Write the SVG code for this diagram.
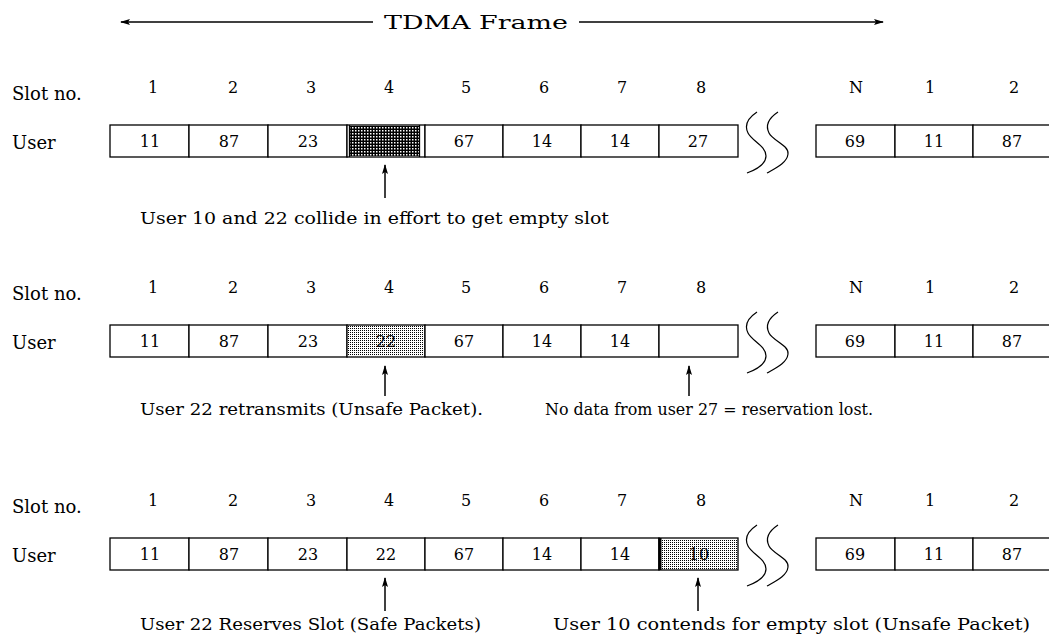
<svg xmlns="http://www.w3.org/2000/svg" width="1049" height="640" viewBox="0 0 1049 640">
<style>
text{font-family:"DejaVu Serif","Liberation Serif",serif;fill:#000}
.lbl{font-size:18px}
.num{font-size:16px;text-anchor:middle}
.val{font-size:16px;text-anchor:middle}
.cap{font-size:17.5px}
.cell{fill:#fff;stroke:#000;stroke-width:1.3}
.ln{stroke:#000;stroke-width:1.3;fill:none}
.brk{stroke:#000;stroke-width:1.2;fill:none}
.arr{stroke:#000;stroke-width:1.5;fill:none;marker-end:url(#ah)}
</style>
<defs>
<pattern id="dark" width="3" height="3" patternUnits="userSpaceOnUse">
<rect width="3" height="3" fill="#000"/>
<rect x="1" y="1" width="1.5" height="1.5" fill="#fff"/>
</pattern>
<pattern id="light" width="2" height="2" patternUnits="userSpaceOnUse">
<rect width="2" height="2" fill="#fff"/>
<rect width="1" height="1" fill="#000"/>
</pattern>
<marker id="ah" viewBox="0 0 10 6" refX="9" refY="3" markerWidth="10" markerHeight="6" markerUnits="userSpaceOnUse" orient="auto">
<path d="M0,0 L10,3 L0,6 L2,3 z" fill="#000"/>
</marker>
<path id="brkA" d="M757,112 C748,118 744,125 748,133 C752,141 766,146 766,156 C766,165 755,170 747,173"/>
<path id="brkB" d="M778,112 C769,118 765,125 769,133 C773,141 789,145 788,154 C787,163 776,168 767,173"/>
</defs>
<rect width="1049" height="640" fill="#fff"/>

<g id="frame-title">
<line x1="373" y1="22" x2="121" y2="22" class="arr"/>
<text x="384" y="29" style="font-size:19px" textLength="184" lengthAdjust="spacingAndGlyphs">TDMA Frame</text>
<line x1="579" y1="22" x2="883" y2="22" class="arr"/>
</g>

<!-- Row 1 -->
<g id="row1">
<text class="lbl" x="12" y="100">Slot no.</text>
<text class="lbl" x="12" y="149">User</text>
<text class="num" x="153" y="93">1</text><text class="num" x="233" y="93">2</text><text class="num" x="311" y="93">3</text><text class="num" x="389" y="93">4</text>
<text class="num" x="466" y="93">5</text><text class="num" x="544" y="93">6</text><text class="num" x="622" y="93">7</text><text class="num" x="701" y="93">8</text>
<text class="num" x="856" y="93">N</text><text class="num" x="930" y="93">1</text><text class="num" x="1014" y="93">2</text>
<g id="r1c1"><rect class="cell" x="110" y="125" width="79" height="32"/><text class="val" x="150" y="147">11</text></g>
<g id="r1c2"><rect class="cell" x="189" y="125" width="79" height="32"/><text class="val" x="229" y="147">87</text></g>
<g id="r1c3"><rect class="cell" x="268" y="125" width="79" height="32"/><text class="val" x="308" y="147">23</text></g>
<g id="r1c4"><rect class="cell" x="347" y="125" width="78" height="32"/><rect x="349.5" y="126" width="70" height="30" fill="url(#dark)"/><line class="ln" x1="349.5" y1="125" x2="349.5" y2="157"/><line class="ln" x1="419.5" y1="125" x2="419.5" y2="157"/></g>
<g id="r1c5"><rect class="cell" x="425" y="125" width="78" height="32"/><text class="val" x="464" y="147">67</text></g>
<g id="r1c6"><rect class="cell" x="503" y="125" width="78" height="32"/><text class="val" x="542" y="147">14</text></g>
<g id="r1c7"><rect class="cell" x="581" y="125" width="78" height="32"/><text class="val" x="620" y="147">14</text></g>
<g id="r1c8"><rect class="cell" x="659" y="125" width="79" height="32"/><text class="val" x="698" y="147">27</text></g>
<g id="r1brk"><use href="#brkA" class="brk"/><use href="#brkB" class="brk"/></g>
<g id="r1cN"><rect class="cell" x="816" y="125" width="79" height="32"/><text class="val" x="855" y="147">69</text></g>
<g id="r1cN1"><rect class="cell" x="895" y="125" width="78" height="32"/><text class="val" x="934" y="147">11</text></g>
<g id="r1cN2"><rect class="cell" x="973" y="125" width="79" height="32"/><text class="val" x="1012" y="147">87</text></g>
<text class="cap" x="140" y="224" textLength="469" lengthAdjust="spacingAndGlyphs">User 10 and 22 collide in effort to get empty slot</text>
</g>

<!-- Row 2 -->
<g id="row2">
<text class="lbl" x="12" y="300">Slot no.</text>
<text class="lbl" x="12" y="349">User</text>
<text class="num" x="153" y="293">1</text><text class="num" x="233" y="293">2</text><text class="num" x="311" y="293">3</text><text class="num" x="389" y="293">4</text>
<text class="num" x="466" y="293">5</text><text class="num" x="544" y="293">6</text><text class="num" x="622" y="293">7</text><text class="num" x="701" y="293">8</text>
<text class="num" x="856" y="293">N</text><text class="num" x="930" y="293">1</text><text class="num" x="1014" y="293">2</text>
<g id="r2c1"><rect class="cell" x="110" y="325" width="79" height="32"/><text class="val" x="150" y="347">11</text></g>
<g id="r2c2"><rect class="cell" x="189" y="325" width="79" height="32"/><text class="val" x="229" y="347">87</text></g>
<g id="r2c3"><rect class="cell" x="268" y="325" width="79" height="32"/><text class="val" x="308" y="347">23</text></g>
<g id="r2c4"><rect class="cell" x="347" y="325" width="78" height="32"/><rect x="348" y="326" width="76" height="30" fill="url(#light)"/><text class="val" x="386" y="347">22</text></g>
<g id="r2c5"><rect class="cell" x="425" y="325" width="78" height="32"/><text class="val" x="464" y="347">67</text></g>
<g id="r2c6"><rect class="cell" x="503" y="325" width="78" height="32"/><text class="val" x="542" y="347">14</text></g>
<g id="r2c7"><rect class="cell" x="581" y="325" width="78" height="32"/><text class="val" x="620" y="347">14</text></g>
<g id="r2c8"><rect class="cell" x="659" y="325" width="79" height="32"/></g>
<g id="r2brk" transform="translate(0,200)"><use href="#brkA" class="brk"/><use href="#brkB" class="brk"/></g>
<g id="r2cN"><rect class="cell" x="816" y="325" width="79" height="32"/><text class="val" x="855" y="347">69</text></g>
<g id="r2cN1"><rect class="cell" x="895" y="325" width="78" height="32"/><text class="val" x="934" y="347">11</text></g>
<g id="r2cN2"><rect class="cell" x="973" y="325" width="79" height="32"/><text class="val" x="1012" y="347">87</text></g>
<text class="cap" x="140" y="415" textLength="343" lengthAdjust="spacingAndGlyphs">User 22 retransmits (Unsafe Packet).</text>
<text class="cap" x="545" y="415" textLength="328" lengthAdjust="spacingAndGlyphs">No data from user 27 = reservation lost.</text>
</g>

<!-- Row 3 -->
<g id="row3">
<text class="lbl" x="12" y="513">Slot no.</text>
<text class="lbl" x="12" y="562">User</text>
<text class="num" x="153" y="506">1</text><text class="num" x="233" y="506">2</text><text class="num" x="311" y="506">3</text><text class="num" x="389" y="506">4</text>
<text class="num" x="466" y="506">5</text><text class="num" x="544" y="506">6</text><text class="num" x="622" y="506">7</text><text class="num" x="701" y="506">8</text>
<text class="num" x="856" y="506">N</text><text class="num" x="930" y="506">1</text><text class="num" x="1014" y="506">2</text>
<g id="r3c1"><rect class="cell" x="110" y="538" width="79" height="32"/><text class="val" x="150" y="560">11</text></g>
<g id="r3c2"><rect class="cell" x="189" y="538" width="79" height="32"/><text class="val" x="229" y="560">87</text></g>
<g id="r3c3"><rect class="cell" x="268" y="538" width="79" height="32"/><text class="val" x="308" y="560">23</text></g>
<g id="r3c4"><rect class="cell" x="347" y="538" width="78" height="32"/><text class="val" x="386" y="560">22</text></g>
<g id="r3c5"><rect class="cell" x="425" y="538" width="78" height="32"/><text class="val" x="464" y="560">67</text></g>
<g id="r3c6"><rect class="cell" x="503" y="538" width="78" height="32"/><text class="val" x="542" y="560">14</text></g>
<g id="r3c7"><rect class="cell" x="581" y="538" width="78" height="32"/><text class="val" x="620" y="560">14</text></g>
<g id="r3c8"><rect class="cell" x="659" y="538" width="79" height="32"/><rect x="660" y="539" width="77" height="30" fill="url(#light)"/><line x1="660" y1="538" x2="660" y2="570" stroke="#000" stroke-width="3"/><text class="val" x="699" y="560">10</text></g>
<g id="r3brk" transform="translate(0,413)"><use href="#brkA" class="brk"/><use href="#brkB" class="brk"/></g>
<g id="r3cN"><rect class="cell" x="816" y="538" width="79" height="32"/><text class="val" x="855" y="560">69</text></g>
<g id="r3cN1"><rect class="cell" x="895" y="538" width="78" height="32"/><text class="val" x="934" y="560">11</text></g>
<g id="r3cN2"><rect class="cell" x="973" y="538" width="79" height="32"/><text class="val" x="1012" y="560">87</text></g>
<text class="cap" x="140" y="630" textLength="341" lengthAdjust="spacingAndGlyphs">User 22 Reserves Slot (Safe Packets)</text>
<text class="cap" x="553" y="630" textLength="477" lengthAdjust="spacingAndGlyphs">User 10 contends for empty slot (Unsafe Packet)</text>
</g>

<g id="connectors">
<line class="arr" x1="385" y1="198" x2="385" y2="165"/>
<line class="arr" x1="385" y1="396" x2="385" y2="366"/>
<line class="arr" x1="689" y1="396" x2="689" y2="366"/>
<line class="arr" x1="385" y1="611" x2="385" y2="578"/>
<line class="arr" x1="698" y1="611" x2="698" y2="578"/>
</g>
</svg>
